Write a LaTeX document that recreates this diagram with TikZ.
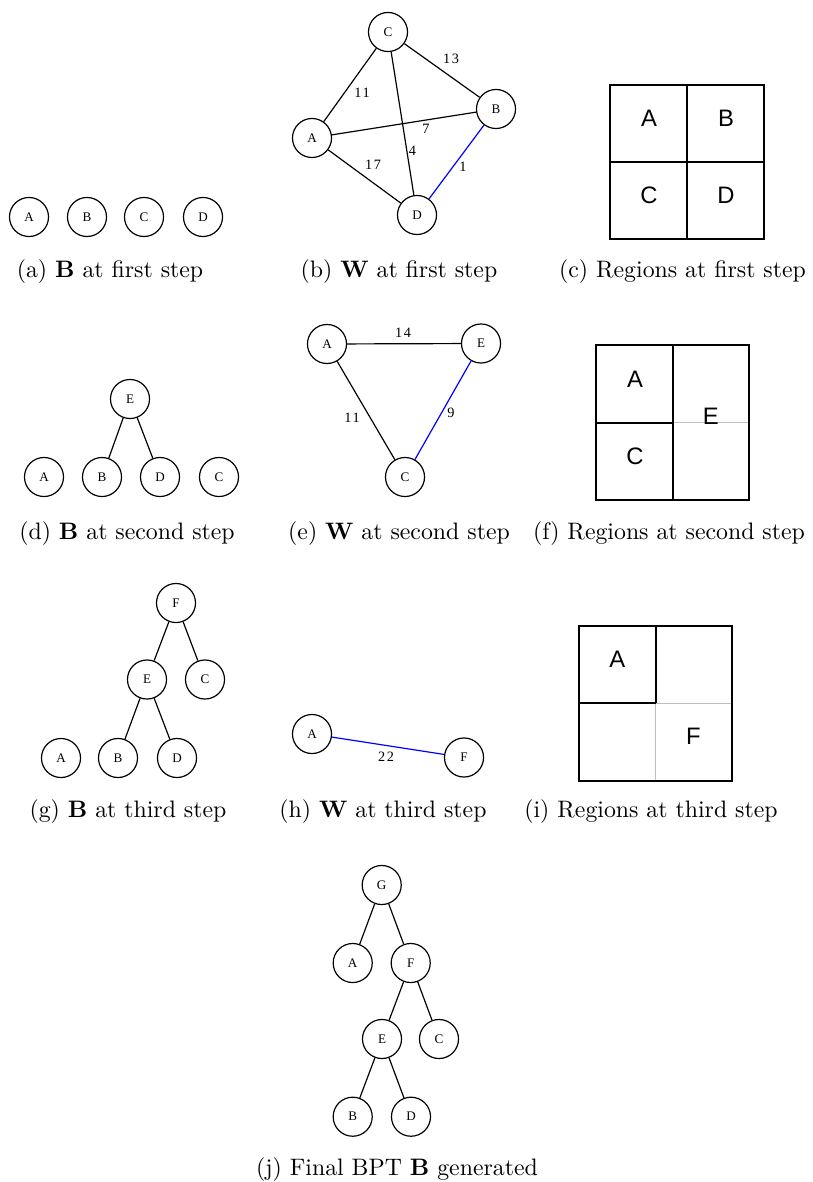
\documentclass[tikz,border=0pt]{standalone}
\usepackage{fontspec}
\newfontfamily\nodefont{Liberation Serif}
\newfontfamily\wfont[LetterSpace=12]{Liberation Serif}
\newfontfamily\regfont{Liberation Sans}

\tikzset{
  vert/.style={circle, draw, line width=0.5pt, minimum size=16.4pt, inner sep=0pt,
    font=\nodefont\fontsize{5.5}{6}\selectfont},
  wlab/.style={inner sep=0pt, font=\wfont\fontsize{6}{7}\selectfont},
  regtext/.style={inner sep=0pt, font=\regfont\fontsize{10}{12}\selectfont},
  subcap/.style={inner sep=0pt, font=\normalsize},
  edge/.style={line width=0.5pt},
  chosen/.style={edge, blue},
  border/.style={line width=0.8pt},
  faint/.style={line width=0.6pt, black!25},
}

\begin{document}
\begin{tikzpicture}[x=0.42pt, y=-0.42pt]
    \useasboundingbox (0,0) rectangle (813,1182);

    % (a) B at first step
    \node[vert] (aA) at (29,217) {A};
    \node[vert] (aB) at (87,217) {B};
    \node[vert] (aC) at (144,217) {C};
    \node[vert] (aD) at (203,217) {D};
    \node[subcap] (capa) at (110,272) {(a) \textbf{B} at first step};

    % (b) W at first step
    \node[vert] (bC) at (388,32) {C};
    \node[vert] (bA) at (312,138) {A};
    \node[vert] (bB) at (496,109) {B};
    \node[vert] (bD) at (417,215) {D};
    \draw[edge] (bA) -- (bC);
    \draw[edge] (bC) -- (bB);
    \draw[edge] (bA) -- (bB);
    \draw[edge] (bC) -- (bD);
    \draw[edge] (bA) -- (bD);
    \draw[chosen] (bB) -- (bD);
    \node[wlab] (wAC) at (362,93) {11};
    \node[wlab] (wCB) at (451,59) {13};
    \node[wlab] (wAB) at (426,129) {7};
    \node[wlab] (wCD) at (412.5,151) {4};
    \node[wlab] (wAD) at (373,165) {17};
    \node[wlab] (wBD) at (463,167) {1};
    \node[subcap] (capb) at (399,272) {(b) \textbf{W} at first step};

    % (c) Regions at first step
    \draw[border] (610,84.7) rectangle (764.3,239.3);
    \draw[border] (687.3,84.7) -- (687.3,239.3);
    \draw[border] (610,162.3) -- (764.3,162.3);
    \node[regtext] (cA) at (649,118) {A};
    \node[regtext] (cB) at (726,118) {B};
    \node[regtext] (cC) at (649,195) {C};
    \node[regtext] (cD) at (726,195) {D};
    \node[subcap] (capc) at (682.5,272) {(c) Regions at first step};

    % (d) B at second step
    \node[vert] (dE) at (130,399) {E};
    \node[vert] (dA) at (44,477) {A};
    \node[vert] (dB) at (102,477) {B};
    \node[vert] (dD) at (160,477) {D};
    \node[vert] (dC) at (219,477) {C};
    \draw[edge] (dE) -- (dB);
    \draw[edge] (dE) -- (dD);
    \node[subcap] (capd) at (127,534) {(d) \textbf{B} at second step};

    % (e) W at second step
    \node[vert] (eA) at (327,344) {A};
    \node[vert] (eE) at (481,343.5) {E};
    \node[vert] (eC) at (405,477) {C};
    \draw[edge] (eA) -- (eE);
    \draw[edge] (eA) -- (eC);
    \draw[chosen] (eE) -- (eC);
    \node[wlab] (wAE) at (403,333) {14};
    \node[wlab] (wAC2) at (352,418) {11};
    \node[wlab] (wEC) at (451,413) {9};
    \node[subcap] (cape) at (399,534) {(e) \textbf{W} at second step};

    % (f) Regions at second step
    \draw[faint] (673.3,422.7) -- (749.3,422.7);
    \draw[border] (596,345) rectangle (749.3,500);
    \draw[border] (673.3,345) -- (673.3,500);
    \draw[border] (596,422.7) -- (673.3,422.7);
    \node[regtext] (fA) at (635,379.3) {A};
    \node[regtext] (fC) at (635,456) {C};
    \node[regtext] (fE) at (710.7,416.7) {E};
    \node[subcap] (capf) at (669,534) {(f) Regions at second step};

    % (g) B at third step
    \node[vert] (gF) at (176,603) {F};
    \node[vert] (gE) at (147,679.5) {E};
    \node[vert] (gC) at (205,679.5) {C};
    \node[vert] (gA) at (61,758) {A};
    \node[vert] (gB) at (118,758) {B};
    \node[vert] (gD) at (177,758) {D};
    \draw[edge] (gF) -- (gE);
    \draw[edge] (gF) -- (gC);
    \draw[edge] (gE) -- (gB);
    \draw[edge] (gE) -- (gD);
    \node[subcap] (capg) at (128,812) {(g) \textbf{B} at third step};

    % (h) W at third step
    \node[vert] (hA) at (312,734) {A};
    \node[vert] (hF) at (464,757.5) {F};
    \draw[chosen] (hA) -- (hF);
    \node[wlab] (wAF) at (386,757) {22};
    \node[subcap] (caph) at (383,812) {(h) \textbf{W} at third step};

    % (i) Regions at third step
    \draw[faint] (655.7,703.3) -- (732.3,703.3);
    \draw[faint] (655.7,703.3) -- (655.7,780.7);
    \draw[border] (579,625.7) rectangle (732.3,780.7);
    \draw[border] (655.7,625.7) -- (655.7,703.3);
    \draw[border] (579,703.3) -- (655.7,703.3);
    \node[regtext] (iA) at (617.3,659.3) {A};
    \node[regtext] (iF) at (693.3,736) {F};
    \node[subcap] (capi) at (651,812) {(i) Regions at third step};

    % (j) Final BPT
    \node[vert] (jG) at (381.7,885) {G};
    \node[vert] (jA) at (352.7,963) {A};
    \node[vert] (jF) at (410.7,963) {F};
    \node[vert] (jE) at (382,1039) {E};
    \node[vert] (jC) at (439,1039) {C};
    \node[vert] (jB) at (352.7,1116.7) {B};
    \node[vert] (jD) at (411,1116.7) {D};
    \draw[edge] (jG) -- (jA);
    \draw[edge] (jG) -- (jF);
    \draw[edge] (jF) -- (jE);
    \draw[edge] (jF) -- (jC);
    \draw[edge] (jE) -- (jB);
    \draw[edge] (jE) -- (jD);
    \node[subcap] (capj) at (397,1170) {(j) Final BPT \textbf{B} generated};
\end{tikzpicture}
\end{document}
